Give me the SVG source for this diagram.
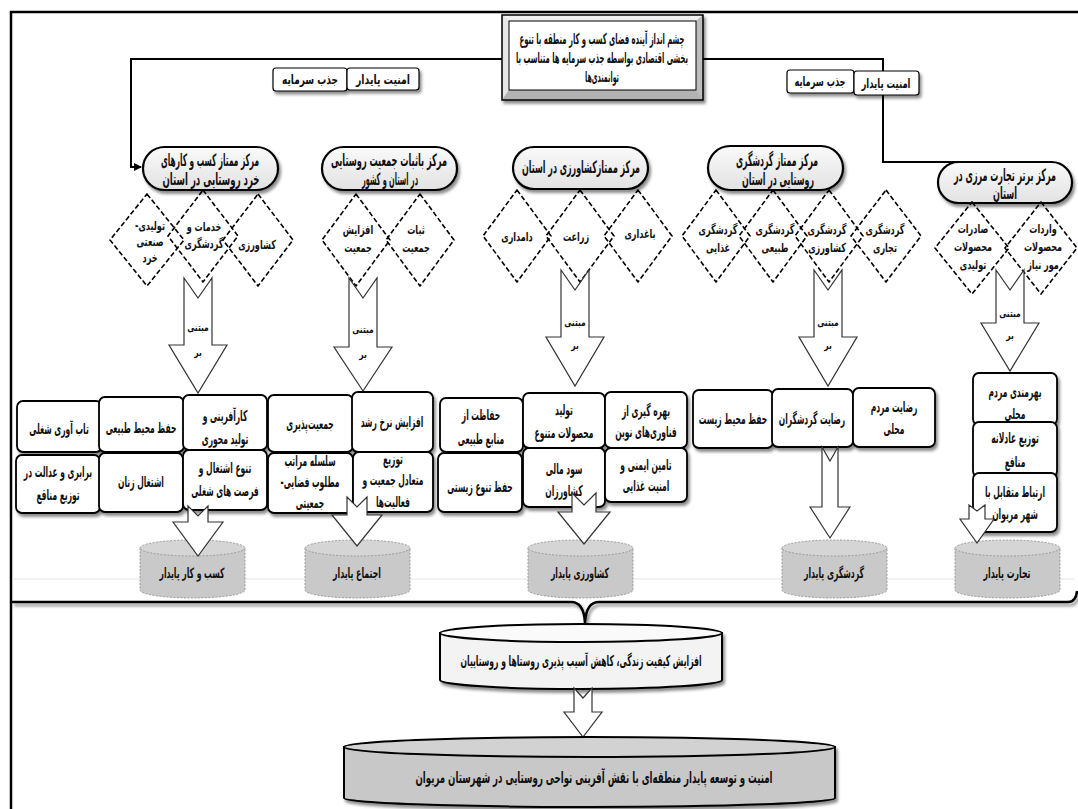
<svg xmlns="http://www.w3.org/2000/svg" width="1078" height="809" viewBox="0 0 1078 809">
<defs>
<style>
.t{font-family:'DejaVu Sans Condensed','DejaVu Sans',sans-serif;font-weight:bold;fill:#111;text-anchor:middle;dominant-baseline:central;direction:rtl}
.nd{font-size:17px}
.tb{font-size:15px}
.lb{font-size:13px}
.bx{font-size:15px}
.dm{font-size:12.5px}
.aw{font-size:10.5px}
.cy{font-size:14px}
.node{fill:url(#ng);stroke:#000;stroke-width:2.2}
.dia{fill:none;stroke:#000;stroke-width:1.6;stroke-dasharray:5 2.5}
.ar{fill:#fff;stroke:#333;stroke-width:1.2}
.box{fill:#fff;stroke:#000;stroke-width:1.8}
.lbl{fill:#fff;stroke:#000;stroke-width:1.2}
.cyl{fill:#c9c9c9;stroke:#9a9a9a;stroke-width:1;stroke-dasharray:2 1.5}
.cyltop{fill:#d5d5d5;stroke:#9a9a9a;stroke-width:1;stroke-dasharray:2 1.5}
.conn{fill:none;stroke:#000;stroke-width:2}
.frame{fill:none;stroke:#000;stroke-width:2.5}
</style>
<filter id="sh" x="-10%" y="-10%" width="130%" height="140%"><feDropShadow dx="2" dy="3" stdDeviation="1.5" flood-color="#000" flood-opacity="0.45"/></filter>
<linearGradient id="ng" x1="0" y1="0" x2="0" y2="1"><stop offset="0" stop-color="#fafafa"/><stop offset="1" stop-color="#e2e2e2"/></linearGradient>
<marker id="ah" markerWidth="8" markerHeight="8" refX="7" refY="4" orient="auto" markerUnits="userSpaceOnUse"><path d="M0,0 L8,4 L0,8 z" fill="#000"/></marker>
</defs>
<rect width="1078" height="809" fill="#fff"/>
<g id="frame">
<path class="frame" d="M11,809 V12 H1078"/>
<line x1="12" y1="579" x2="1074" y2="579" stroke="#e4e4e4" stroke-width="1"/>
<path class="frame" filter="url(#sh)" d="M12,602 H571 Q584,602 585,623 Q586,602 599,602 H1068 Q1076,602 1077,591"/>
</g>
<g id="connectors">
<path class="conn" d="M502,59 H131 V167 H141" marker-end="url(#ah)"/>
<path class="conn" d="M703,59 H883 V162 H972"/>
</g>
<g id="vision">
<g filter="url(#sh)">
<rect x="502" y="15" width="201" height="85" fill="#cfcfcf"/>
<polygon points="502,15 703,15 696,21 509,21" fill="#f2f2f2"/>
<polygon points="502,15 509,21 509,90 502,100" fill="#e6e6e6"/>
<polygon points="703,15 696,21 696,90 703,100" fill="#bdbdbd"/>
<polygon points="502,100 509,90 696,90 703,100" fill="#b2b2b2"/>
<rect x="509" y="21" width="187" height="69" fill="#fff" stroke="#000" stroke-width="1"/>
<rect x="502" y="15" width="201" height="85" fill="none" stroke="#000" stroke-width="1.5"/>
</g>
<text class="t tb" x="602" y="39" textLength="165" lengthAdjust="spacingAndGlyphs">چشم انداز آینده فضای کسب و کار منطقه با تنوع</text>
<text class="t tb" x="602" y="58" textLength="172" lengthAdjust="spacingAndGlyphs">بخشی اقتصادی بواسطه جذب سرمایه ها متناسب با</text>
<text class="t tb" x="602" y="77" textLength="34" lengthAdjust="spacingAndGlyphs">توانمندی‌ها</text>
</g>
<g id="labels-left">
<rect class="lbl" filter="url(#sh)" x="273" y="68" width="74" height="23" rx="3"/>
<rect class="lbl" filter="url(#sh)" x="347" y="68" width="72" height="22" rx="3"/>
<text class="t lb" x="310" y="79" textLength="56" lengthAdjust="spacingAndGlyphs">جذب سرمایه</text>
<text class="t lb" x="383" y="79" textLength="54" lengthAdjust="spacingAndGlyphs">امنیت پایدار</text>
</g>
<g id="labels-right">
<rect class="lbl" filter="url(#sh)" x="787" y="70" width="67" height="23" rx="3"/>
<rect class="lbl" filter="url(#sh)" x="854" y="71" width="65" height="24" rx="3"/>
<text class="t lb" x="820" y="81" textLength="51" lengthAdjust="spacingAndGlyphs">جذب سرمایه</text>
<text class="t lb" x="886" y="83" textLength="49" lengthAdjust="spacingAndGlyphs">امنیت پایدار</text>
</g>
<g id="n1">
<rect class="node" filter="url(#sh)" x="143" y="147" width="135" height="43" rx="21.5"/>
<text class="t nd" x="210" y="160" textLength="98" lengthAdjust="spacingAndGlyphs">مرکز ممتاز کسب و کارهای</text>
<text class="t nd" x="211" y="179" textLength="97" lengthAdjust="spacingAndGlyphs">خرد روستایی در استان</text>
</g>
<g id="n2">
<rect class="node" filter="url(#sh)" x="322" y="147" width="135" height="43" rx="21.5"/>
<text class="t nd" x="389" y="160" textLength="116" lengthAdjust="spacingAndGlyphs">مرکز باثبات جمعیت روستایی</text>
<text class="t nd" x="390" y="179" textLength="56" lengthAdjust="spacingAndGlyphs">در استان و کشور</text>
</g>
<g id="n3">
<rect class="node" filter="url(#sh)" x="513" y="147" width="135" height="42" rx="21"/>
<text class="t nd" x="581" y="167" textLength="118" lengthAdjust="spacingAndGlyphs">مرکز ممتازکشاورزی در استان</text>
</g>
<g id="n4">
<rect class="node" filter="url(#sh)" x="708" y="146" width="135" height="44" rx="22"/>
<text class="t nd" x="777" y="160" textLength="82" lengthAdjust="spacingAndGlyphs">مرکز ممتاز گردشگری</text>
<text class="t nd" x="778" y="179" textLength="72" lengthAdjust="spacingAndGlyphs">روستایی در استان</text>
</g>
<g id="n5">
<rect class="node" filter="url(#sh)" x="938" y="162" width="134" height="41" rx="20.5"/>
<text class="t nd" x="1005" y="175" textLength="102" lengthAdjust="spacingAndGlyphs">مرکز برتر تجارت مرزی در</text>
<text class="t nd" x="1005" y="193" textLength="24" lengthAdjust="spacingAndGlyphs">استان</text>
</g>
<g id="diamonds">
<polygon class="dia" points="147,194 184,240 147,286 110,240"/>
<polygon class="dia" points="258,194 293,240 258,286 223,240"/>
<polygon class="dia" points="203,190 238,236 203,282 168,236"/>
<text class="t dm" transform="translate(150,226) scale(.72,1)">تولیدی-</text>
<text class="t dm" transform="translate(150,242) scale(.72,1)">صنعتی</text>
<text class="t dm" transform="translate(150,258) scale(.72,1)">خرد</text>
<text class="t dm" transform="translate(204,227) scale(.72,1)">خدمات و</text>
<text class="t dm" transform="translate(204,244) scale(.72,1)">گردشگری</text>
<text class="t dm" transform="translate(257,245) scale(.72,1)">کشاورزی</text>
<polygon class="dia" points="356,194 390,240 356,286 322,240"/>
<polygon class="dia" points="420,194 454,240 420,286 386,240"/>
<text class="t dm" transform="translate(358,230) scale(.72,1)">افزایش</text>
<text class="t dm" transform="translate(358,248) scale(.72,1)">جمعیت</text>
<text class="t dm" transform="translate(416,230) scale(.72,1)">ثبات</text>
<text class="t dm" transform="translate(416,248) scale(.72,1)">جمعیت</text>
<polygon class="dia" points="517,190 551,236 517,282 483,236"/>
<polygon class="dia" points="580,190 614,236 580,282 546,236"/>
<polygon class="dia" points="638,190 672,236 638,282 604,236"/>
<text class="t dm" transform="translate(517,237) scale(.72,1)">دامداری</text>
<text class="t dm" transform="translate(576,237) scale(.72,1)">زراعت</text>
<text class="t dm" transform="translate(640,234) scale(.72,1)">باغداری</text>
<polygon class="dia" points="716,190 750,236 716,282 682,236"/>
<polygon class="dia" points="773,190 807,236 773,282 739,236"/>
<polygon class="dia" points="829,190 863,236 829,282 795,236"/>
<polygon class="dia" points="886,190 921,236 886,282 851,236"/>
<text class="t dm" transform="translate(718,230) scale(.72,1)">گردشگری</text>
<text class="t dm" transform="translate(718,248) scale(.72,1)">غذایی</text>
<text class="t dm" transform="translate(775,230) scale(.72,1)">گردشگری</text>
<text class="t dm" transform="translate(775,248) scale(.72,1)">طبیعی</text>
<text class="t dm" transform="translate(827,230) scale(.72,1)">گردشگری</text>
<text class="t dm" transform="translate(827,248) scale(.72,1)">کشاورزی</text>
<text class="t dm" transform="translate(885,230) scale(.72,1)">گردشگری</text>
<text class="t dm" transform="translate(885,248) scale(.72,1)">تجاری</text>
<polygon class="dia" points="972,202 1009,248 972,294 935,248"/>
<polygon class="dia" points="1041,202 1077,248 1041,294 1005,248"/>
<text class="t dm" transform="translate(973,229) scale(.72,1)">صادرات</text>
<text class="t dm" transform="translate(973,247) scale(.72,1)">محصولات</text>
<text class="t dm" transform="translate(973,265) scale(.72,1)">تولیدی</text>
<text class="t dm" transform="translate(1043,229) scale(.72,1)">واردات</text>
<text class="t dm" transform="translate(1043,247) scale(.72,1)">محصولات</text>
<text class="t dm" transform="translate(1043,265) scale(.72,1)">مور نیاز</text>
</g>
<g id="arrows-top">
<polygon class="ar" points="184,278 198,298 212,278 212,345 227,345 198,393 169,345 184,345"/>
<text class="t aw" transform="translate(198,327) scale(.8,1)">مبتنی</text>
<text class="t aw" transform="translate(198,352) scale(.8,1)">بر</text>
<polygon class="ar" points="349,278 363,298 377,278 377,347 392,347 363,391 334,347 349,347"/>
<text class="t aw" transform="translate(363,329) scale(.8,1)">مبتنی</text>
<text class="t aw" transform="translate(363,354) scale(.8,1)">بر</text>
<polygon class="ar" points="561,270 575,290 589,270 589,337 604,337 575,386 546,337 561,337"/>
<text class="t aw" transform="translate(575,322) scale(.8,1)">مبتنی</text>
<text class="t aw" transform="translate(575,345) scale(.8,1)">بر</text>
<polygon class="ar" points="814,270 828,290 842,270 842,337 857,337 828,386 799,337 814,337"/>
<text class="t aw" transform="translate(828,322) scale(.8,1)">مبتنی</text>
<text class="t aw" transform="translate(828,345) scale(.8,1)">بر</text>
<polygon class="ar" points="996,270 1010,290 1024,270 1024,323 1039,323 1010,371 981,323 996,323"/>
<text class="t aw" transform="translate(1010,313) scale(.8,1)">مبتنی</text>
<text class="t aw" transform="translate(1010,335) scale(.8,1)">بر</text>
</g>
<g id="boxes1">
<rect class="box" filter="url(#sh)" x="17" y="401" width="85" height="51" rx="6"/>
<rect class="box" filter="url(#sh)" x="99" y="397" width="85" height="55" rx="6"/>
<rect class="box" filter="url(#sh)" x="183" y="395" width="84" height="55" rx="6"/>
<rect class="box" filter="url(#sh)" x="16" y="455" width="84" height="58" rx="6"/>
<rect class="box" filter="url(#sh)" x="99" y="453" width="84" height="59" rx="6"/>
<rect class="box" filter="url(#sh)" x="183" y="450" width="84" height="60" rx="6"/>
<text class="t bx" transform="translate(59,429) scale(.56,1)">تاب آوری شغلی</text>
<text class="t bx" transform="translate(141,428) scale(.56,1)">حفظ محیط طبیعی</text>
<text class="t bx" transform="translate(225,416) scale(.56,1)">کارآفرینی و</text>
<text class="t bx" transform="translate(225,439) scale(.56,1)">تولید محوری</text>
<text class="t bx" transform="translate(58,472) scale(.56,1)">برابری و عدالت در</text>
<text class="t bx" transform="translate(58,495) scale(.56,1)">توزیع مناقع</text>
<text class="t bx" transform="translate(141,482) scale(.56,1)">اشتغال زنان</text>
<text class="t bx" transform="translate(225,468) scale(.56,1)">تنوع اشتغال و</text>
<text class="t bx" transform="translate(225,491) scale(.56,1)">فرصت های شغلی</text>
</g>
<g id="boxes2">
<rect class="box" filter="url(#sh)" x="268" y="395" width="85" height="57" rx="6"/>
<rect class="box" filter="url(#sh)" x="352" y="392" width="81" height="60" rx="6"/>
<rect class="box" filter="url(#sh)" x="268" y="453" width="85" height="60" rx="6"/>
<rect class="box" filter="url(#sh)" x="353" y="452" width="80" height="60" rx="6"/>
<text class="t bx" transform="translate(310,424) scale(.56,1)">جمعیت‌پذیری</text>
<text class="t bx" transform="translate(392,422) scale(.56,1)">افزایش نرخ رشد</text>
<text class="t bx" transform="translate(310,461) scale(.56,1)">سلسله مراتب</text>
<text class="t bx" transform="translate(310,482) scale(.56,1)">مطلوب فضایی-</text>
<text class="t bx" transform="translate(310,503) scale(.56,1)">جمعیتی</text>
<text class="t bx" transform="translate(393,459) scale(.56,1)">توزیع</text>
<text class="t bx" transform="translate(393,480) scale(.56,1)">متعادل جمعیت و</text>
<text class="t bx" transform="translate(393,502) scale(.56,1)">فعالیت‌ها</text>
</g>
<g id="boxes3">
<rect class="box" filter="url(#sh)" x="440" y="398" width="83" height="54" rx="6"/>
<rect class="box" filter="url(#sh)" x="523" y="393" width="82" height="55" rx="6"/>
<rect class="box" filter="url(#sh)" x="605" y="392" width="82" height="56" rx="6"/>
<rect class="box" filter="url(#sh)" x="438" y="453" width="84" height="59" rx="6"/>
<rect class="box" filter="url(#sh)" x="523" y="448" width="82" height="59" rx="6"/>
<rect class="box" filter="url(#sh)" x="605" y="448" width="82" height="54" rx="6"/>
<text class="t bx" transform="translate(481,415) scale(.56,1)">حفاظت از</text>
<text class="t bx" transform="translate(481,439) scale(.56,1)">منابع طبیعی</text>
<text class="t bx" transform="translate(564,410) scale(.56,1)">تولید</text>
<text class="t bx" transform="translate(564,433) scale(.56,1)">محصولات متنوع</text>
<text class="t bx" transform="translate(646,411) scale(.56,1)">بهره گیری از</text>
<text class="t bx" transform="translate(646,432) scale(.56,1)">فناوری‌های نوین</text>
<text class="t bx" transform="translate(480,487) scale(.56,1)">حفظ تنوع زیستی</text>
<text class="t bx" transform="translate(564,469) scale(.56,1)">سود مالی</text>
<text class="t bx" transform="translate(564,491) scale(.56,1)">کشاورزان</text>
<text class="t bx" transform="translate(646,465) scale(.56,1)">تامین ایمنی و</text>
<text class="t bx" transform="translate(646,486) scale(.56,1)">امنیت غذایی</text>
</g>
<g id="boxes4">
<rect class="box" filter="url(#sh)" x="693" y="390" width="80" height="58" rx="6"/>
<rect class="box" filter="url(#sh)" x="772" y="389" width="81" height="58" rx="6"/>
<rect class="box" filter="url(#sh)" x="853" y="388" width="82" height="59" rx="6"/>
<text class="t bx" transform="translate(733,419) scale(.56,1)">حفظ محیط زیست</text>
<text class="t bx" transform="translate(812,419) scale(.56,1)">رضایت گردشگران</text>
<text class="t bx" transform="translate(894,407) scale(.56,1)">رضایت مردم</text>
<text class="t bx" transform="translate(894,429) scale(.56,1)">محلی</text>
</g>
<g id="boxes5">
<rect class="box" filter="url(#sh)" x="973" y="373" width="84" height="52" rx="6"/>
<rect class="box" filter="url(#sh)" x="973" y="422" width="84" height="55" rx="6"/>
<rect class="box" filter="url(#sh)" x="973" y="473" width="84" height="59" rx="6"/>
<text class="t bx" transform="translate(1015,392) scale(.56,1)">بهرمندی مردم</text>
<text class="t bx" transform="translate(1015,414) scale(.56,1)">محلی</text>
<text class="t bx" transform="translate(1015,438) scale(.56,1)">توزیع عادلانه</text>
<text class="t bx" transform="translate(1015,462) scale(.56,1)">منافع</text>
<text class="t bx" transform="translate(1015,492) scale(.56,1)">ارتباط متقابل با</text>
<text class="t bx" transform="translate(1015,514) scale(.56,1)">شهر مریوان</text>
</g>
<g id="cylinders">
<path class="cyl" d="M140,548 V590 A52.5,8 0 0 0 245,590 V548 z"/>
<ellipse class="cyltop" cx="192.5" cy="548" rx="52.5" ry="8"/>
<text class="t cy" x="192" y="573" textLength="65" lengthAdjust="spacingAndGlyphs">کسب و کار پایدار</text>
<path class="cyl" d="M305,548 V590 A52.5,8 0 0 0 410,590 V548 z"/>
<ellipse class="cyltop" cx="357.5" cy="548" rx="52.5" ry="8"/>
<text class="t cy" x="357" y="573" textLength="48" lengthAdjust="spacingAndGlyphs">اجتماع پایدار</text>
<path class="cyl" d="M528,548 V590 A52.5,8 0 0 0 633,590 V548 z"/>
<ellipse class="cyltop" cx="580.5" cy="548" rx="52.5" ry="8"/>
<text class="t cy" x="580" y="573" textLength="58" lengthAdjust="spacingAndGlyphs">کشاورزی پایدار</text>
<path class="cyl" d="M782,548 V590 A52.5,8 0 0 0 887,590 V548 z"/>
<ellipse class="cyltop" cx="834.5" cy="548" rx="52.5" ry="8"/>
<text class="t cy" x="834" y="573" textLength="60" lengthAdjust="spacingAndGlyphs">گردشگری پایدار</text>
<path class="cyl" d="M955,548 V590 A52.5,8 0 0 0 1060,590 V548 z"/>
<ellipse class="cyltop" cx="1007.5" cy="548" rx="52.5" ry="8"/>
<text class="t cy" x="1007" y="573" textLength="47" lengthAdjust="spacingAndGlyphs">تجارت پایدار</text>
</g>
<g id="arrows-bottom">
<polygon class="ar" points="188,506 198,516 208,506 208,522 223,522 198,556 173,522 188,522"/>
<polygon class="ar" points="347,497 357,507 367,497 367,515 382,515 357,546 332,515 347,515"/>
<polygon class="ar" points="572,493 584,505 596,493 596,512 610,512 584,544 558,512 572,512"/>
<polygon class="ar" points="822,447 830,461 838,447 838,507 850,507 830,538 810,507 822,507"/>
<polygon class="ar" points="969,505 977,511 985,505 985,519 994,519 977,543 960,519 969,519"/>
</g>
<g id="quality">
<g filter="url(#sh)">
<path d="M440,633 V680 A141,9 0 0 0 722,680 V633 z" fill="#f3f3f3" stroke="#000" stroke-width="2"/>
<ellipse cx="581" cy="633" rx="141" ry="9" fill="#fafafa" stroke="#000" stroke-width="2"/>
</g>
<text class="t" x="581" y="661" font-size="15" textLength="241" lengthAdjust="spacingAndGlyphs">افزایش کیفیت زندگی، کاهش آسیب پذیری روستاها و روستاییان</text>
</g>
<polygon id="arrow-final" class="ar" points="574,688 583,698 592,688 592,712 602,712 583,737 564,712 574,712"/>
<g id="goal">
<g filter="url(#sh)">
<path d="M344,747 V798 A245.5,9 0 0 0 835,798 V747 z" fill="#c8c8c8" stroke="#000" stroke-width="2"/>
<ellipse cx="589.5" cy="747" rx="245.5" ry="10" fill="#d2d2d2" stroke="#000" stroke-width="2"/>
</g>
<text class="t" x="594" y="777" font-size="16" textLength="357" lengthAdjust="spacingAndGlyphs">امنیت و توسعه پایدار منطقه‌ای با نقش آفرینی نواحی روستایی در شهرستان مریوان</text>
</g>
</svg>
